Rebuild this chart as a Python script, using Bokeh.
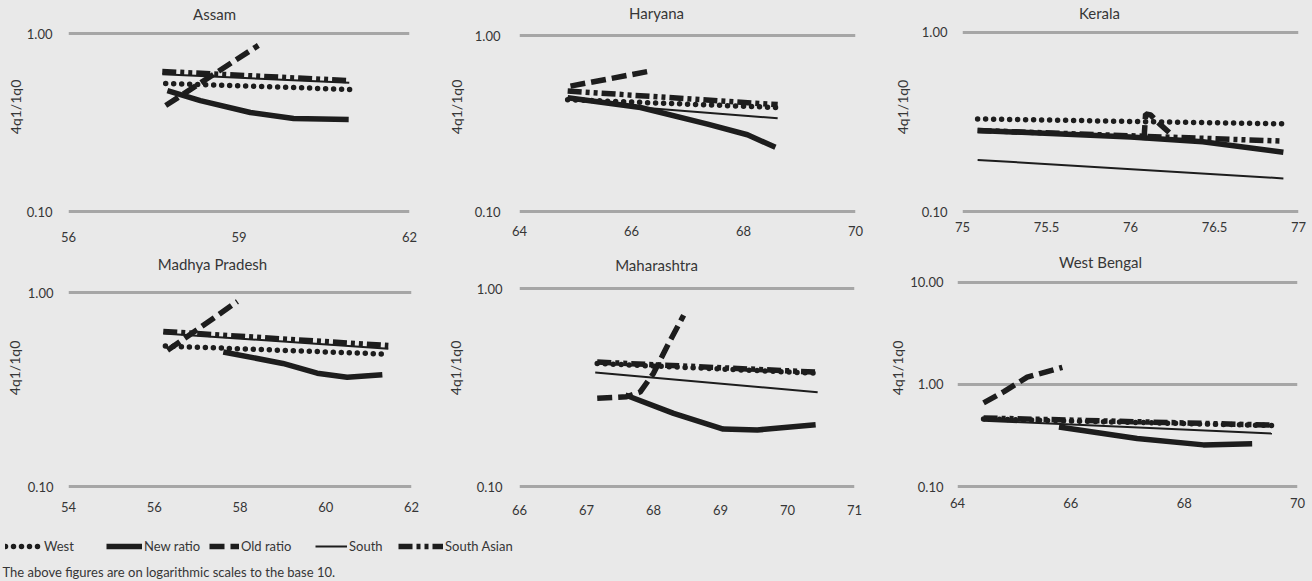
import math
from bokeh.plotting import figure
from bokeh.layouts import column, row
from bokeh.models import Range1d, FixedTicker, PrintfTickFormatter, Label, Legend, LegendItem
from bokeh.embed import file_html
from bokeh.resources import INLINE

# ---------------- data ----------------
SERIES = ["West", "New ratio", "Old ratio", "South", "South Asian"]
Y_LABEL = "4q1/1q0"
FOOTNOTE = "The above figures are on logarithmic scales to the base 10."

# Assam
assam_xticks = [56, 59, 62]
assam_west_x = [57.71, 60.96]
assam_west_y = [0.524, 0.485]
assam_new_x = [57.74, 58.32, 59.20, 59.96, 60.93]
assam_new_y = [0.478, 0.420, 0.360, 0.333, 0.329]
assam_old_x = [57.71, 59.34]
assam_old_y = [0.394, 0.857]
assam_south_x = [57.65, 60.94]
assam_south_y = [0.590, 0.528]
assam_sa_x = [57.65, 60.94]
assam_sa_y = [0.612, 0.544]

# Haryana
haryana_xticks = [64, 66, 68, 70]
haryana_west_x = [64.86, 68.61]
haryana_west_y = [0.432, 0.390]
haryana_new_x = [64.86, 66.16, 67.36, 68.07, 68.57]
haryana_new_y = [0.443, 0.390, 0.314, 0.273, 0.232]
haryana_old_x = [64.91, 66.30]
haryana_old_y = [0.516, 0.625]
haryana_south_x = [64.86, 66.16, 68.61]
haryana_south_y = [0.445, 0.390, 0.339]
haryana_sa_x = [64.86, 68.61]
haryana_sa_y = [0.484, 0.405]

# Kerala
kerala_xticks = [75, 75.5, 76, 76.5, 77]
kerala_west_x = [75.09, 76.91]
kerala_west_y = [0.328, 0.308]
kerala_new_x = [75.09, 76.00, 76.43, 76.91]
kerala_new_y = [0.283, 0.260, 0.245, 0.214]
kerala_old_x = [76.08, 76.09, 76.12, 76.17, 76.25]
kerala_old_y = [0.250, 0.350, 0.345, 0.310, 0.265]
kerala_south_x = [75.09, 76.91]
kerala_south_y = [0.194, 0.153]
kerala_sa_x = [75.09, 76.90]
kerala_sa_y = [0.283, 0.247]

# Madhya Pradesh
mp_xticks = [54, 56, 58, 60, 62]
mp_west_x = [56.26, 61.46]
mp_west_y = [0.530, 0.481]
mp_new_x = [57.61, 59.00, 59.80, 60.50, 61.32]
mp_new_y = [0.494, 0.431, 0.384, 0.366, 0.377]
mp_old_x = [56.31, 57.94]
mp_old_y = [0.504, 0.900]
mp_south_x = [56.21, 61.46]
mp_south_y = [0.615, 0.514]
mp_sa_x = [56.21, 61.46]
mp_sa_y = [0.630, 0.533]

# Maharashtra
mah_xticks = [66, 67, 68, 69, 70, 71]
mah_west_x = [67.16, 70.45]
mah_west_y = [0.418, 0.373]
mah_new_x = [67.58, 68.30, 69.04, 69.55, 70.42]
mah_new_y = [0.290, 0.234, 0.195, 0.193, 0.205]
mah_old_x = [67.16, 67.60, 67.80, 68.00, 68.20, 68.45]
mah_old_y = [0.279, 0.284, 0.300, 0.373, 0.508, 0.733]
mah_south_x = [67.13, 70.45]
mah_south_y = [0.377, 0.299]
mah_sa_x = [67.16, 70.45]
mah_sa_y = [0.425, 0.378]

# West Bengal
wb_xticks = [64, 66, 68, 70]
wb_west_x = [64.46, 69.55]
wb_west_y = [0.459, 0.396]
wb_new_x = [65.79, 67.17, 68.34, 69.20]
wb_new_y = [0.383, 0.296, 0.256, 0.262]
wb_old_x = [64.46, 64.82, 65.23, 65.85]
wb_old_y = [0.660, 0.851, 1.180, 1.470]
wb_south_x = [64.46, 69.55]
wb_south_y = [0.442, 0.331]
wb_sa_x = [64.46, 69.55]
wb_sa_y = [0.470, 0.400]

# ---------------- styles ----------------
BG = "#e9e9e9"
INK = "#1d1d1d"
GRID = "#a6a6a6"
TXT = "#363636"
FONT = "Lato"

STYLES = {
    "West": dict(line_width=5.5, line_dash="0 8", line_cap="round"),
    "New ratio": dict(line_width=5.5),
    "Old ratio": dict(line_width=5.5, line_dash="15 6"),
    "South": dict(line_width=2),
    "South Asian": dict(line_width=5.5, line_dash="14 4 4 4 4 4"),
}
DRAW_ORDER = ["South", "South Asian", "New ratio", "Old ratio", "West"]


def panel(title, data, xr, xticks, yticks, w, h, bl, br, top_px, decade_px,
          title_cx, title_cy, xstand, ystand, lstand):
    """top_px: pixel distance from figure top to the highest gridline;
    decade_px: pixels per decade; frame starts at figure top and ends 2px below 0.10"""
    ndec = round(math.log10(yticks[-1] / yticks[0]))
    ymax = yticks[-1] * 10 ** (top_px / decade_px)
    ymin = yticks[0] * 10 ** (-2 / decade_px)
    bb = h - top_px - ndec * decade_px - 2
    p = figure(width=w, height=h, x_range=Range1d(*xr), y_range=Range1d(ymin, ymax),
               y_axis_type="log", output_backend="svg", toolbar_location=None,
               min_border_left=bl, min_border_right=br, min_border_top=0,
               min_border_bottom=int(round(bb)))
    p.background_fill_color = BG
    p.border_fill_color = BG
    p.outline_line_color = None
    p.xgrid.visible = False
    p.ygrid.ticker = FixedTicker(ticks=yticks)
    p.ygrid.grid_line_color = GRID
    p.ygrid.grid_line_width = 3
    p.xaxis.ticker = FixedTicker(ticks=xticks)
    p.yaxis.ticker = FixedTicker(ticks=yticks)
    p.yaxis.formatter = PrintfTickFormatter(format="%.2f")
    for ax in p.axis:
        ax.axis_line_color = None
        ax.major_tick_line_color = None
        ax.minor_tick_line_color = None
        ax.major_tick_out = 0
        ax.major_tick_in = 0
        ax.minor_tick_out = 0
        ax.minor_tick_in = 0
        ax.major_label_text_font = FONT
        ax.major_label_text_font_size = "13px"
        ax.major_label_text_color = TXT
    p.xaxis.major_label_standoff = xstand
    p.yaxis.major_label_standoff = ystand
    p.yaxis.axis_label = Y_LABEL
    p.yaxis.axis_label_text_font = FONT
    p.yaxis.axis_label_text_font_size = "14px"
    p.yaxis.axis_label_text_font_style = "normal"
    p.yaxis.axis_label_text_color = TXT
    p.yaxis.axis_label_standoff = lstand
    for name in DRAW_ORDER:
        xs, ys = data[name]
        p.line(xs, ys, line_color=INK, **STYLES[name])
    # title placed inside the (extended) frame, above the top gridline
    frame_w = w - bl - br
    tx = xr[0] + (xr[1] - xr[0]) * title_cx / frame_w
    ty = ymax * 10 ** (-title_cy / decade_px)
    p.add_layout(Label(x=tx, y=ty, text=title, text_align="center", text_baseline="middle",
                       text_font=FONT, text_font_size="15px", text_color=TXT))
    return p


p1 = panel("Assam", {"West": (assam_west_x, assam_west_y), "New ratio": (assam_new_x, assam_new_y),
                     "Old ratio": (assam_old_x, assam_old_y), "South": (assam_south_x, assam_south_y),
                     "South Asian": (assam_sa_x, assam_sa_y)},
           (56, 62), assam_xticks, [0.1, 1.0], 440, 247, 68, 31, 33, 178,
           146, 13, 18, 16, 0)
p2 = panel("Haryana", {"West": (haryana_west_x, haryana_west_y), "New ratio": (haryana_new_x, haryana_new_y),
                       "Old ratio": (haryana_old_x, haryana_old_y), "South": (haryana_south_x, haryana_south_y),
                       "South Asian": (haryana_sa_x, haryana_sa_y)},
           (64, 70), haryana_xticks, [0.1, 1.0], 440, 247, 79, 25, 36, 181,
           137, 13, 12, 19, 7)
p3 = panel("Kerala", {"West": (kerala_west_x, kerala_west_y), "New ratio": (kerala_new_x, kerala_new_y),
                      "Old ratio": (kerala_old_x, kerala_old_y), "South": (kerala_south_x, kerala_south_y),
                      "South Asian": (kerala_sa_x, kerala_sa_y)},
           (75, 77), kerala_xticks, [0.1, 1.0], 432, 247, 82, 14, 33, 188,
           137, 13, 8, 15, 8)
p4 = panel("Madhya Pradesh", {"West": (mp_west_x, mp_west_y), "New ratio": (mp_new_x, mp_new_y),
                              "Old ratio": (mp_old_x, mp_old_y), "South": (mp_south_x, mp_south_y),
                              "South Asian": (mp_sa_x, mp_sa_y)},
           (54, 62), mp_xticks, [0.1, 1.0], 440, 275, 68, 29, 46, 198,
           144, 17, 13, 15, 2)
p5 = panel("Maharashtra", {"West": (mah_west_x, mah_west_y), "New ratio": (mah_new_x, mah_new_y),
                           "Old ratio": (mah_old_x, mah_old_y), "South": (mah_south_x, mah_south_y),
                           "South Asian": (mah_sa_x, mah_sa_y)},
           (66, 71), mah_xticks, [0.1, 1.0], 440, 275, 79, 26, 41, 198,
           137, 17, 16, 17, 10)
p6 = panel("West Bengal", {"West": (wb_west_x, wb_west_y), "New ratio": (wb_new_x, wb_new_y),
                           "Old ratio": (wb_old_x, wb_old_y), "South": (wb_south_x, wb_south_y),
                           "South Asian": (wb_sa_x, wb_sa_y)},
           (64, 70), wb_xticks, [0.1, 1.0, 10.0], 432, 275, 77, 15, 36, 105.5,
           143, 15, 9, 14, 1)

# ---------------- legend + footnote ----------------
LG_W, LG_H = 1312, 58
lg = figure(width=LG_W, height=LG_H, x_range=Range1d(0, LG_W), y_range=Range1d(0, LG_H),
            output_backend="svg", toolbar_location=None, min_border=0,
            x_axis_location=None, y_axis_location=None)
lg.background_fill_color = BG
lg.border_fill_color = BG
lg.outline_line_color = None
lg.grid.visible = False

legend_x = {"West": 5, "New ratio": 106, "Old ratio": 209, "South": 315, "South Asian": 398}
legend_w = {"West": 37, "New ratio": 36, "Old ratio": 30, "South": 32, "South Asian": 45}
for name in SERIES:
    # legend-only renderer: its points lie outside the visible range
    r = lg.line(x=[-10, -5], y=[-10, -10], line_color=INK, **STYLES[name])
    leg = Legend(items=[LegendItem(label=name, renderers=[r])], location=(legend_x[name], 26),
                 glyph_width=legend_w[name], glyph_height=16, label_standoff=2,
                 padding=0, margin=0, border_line_color=None, background_fill_alpha=0,
                 label_text_font=FONT, label_text_font_size="13px", label_text_color=TXT,
                 label_height=16)
    lg.add_layout(leg)

lg.add_layout(Label(x=2, y=9, text=FOOTNOTE,
                    text_baseline="middle", text_align="left", text_font=FONT,
                    text_font_size="13px", text_color=TXT))

layout = column(row(p1, p2, p3), row(p4, p5, p6), lg)
html = file_html(layout, INLINE, title="4q1/1q0 by state")
html = html.replace("</head>", "<style>html, body { background-color: #e9e9e9; }</style></head>", 1)
open("out.html", "w").write(html)
